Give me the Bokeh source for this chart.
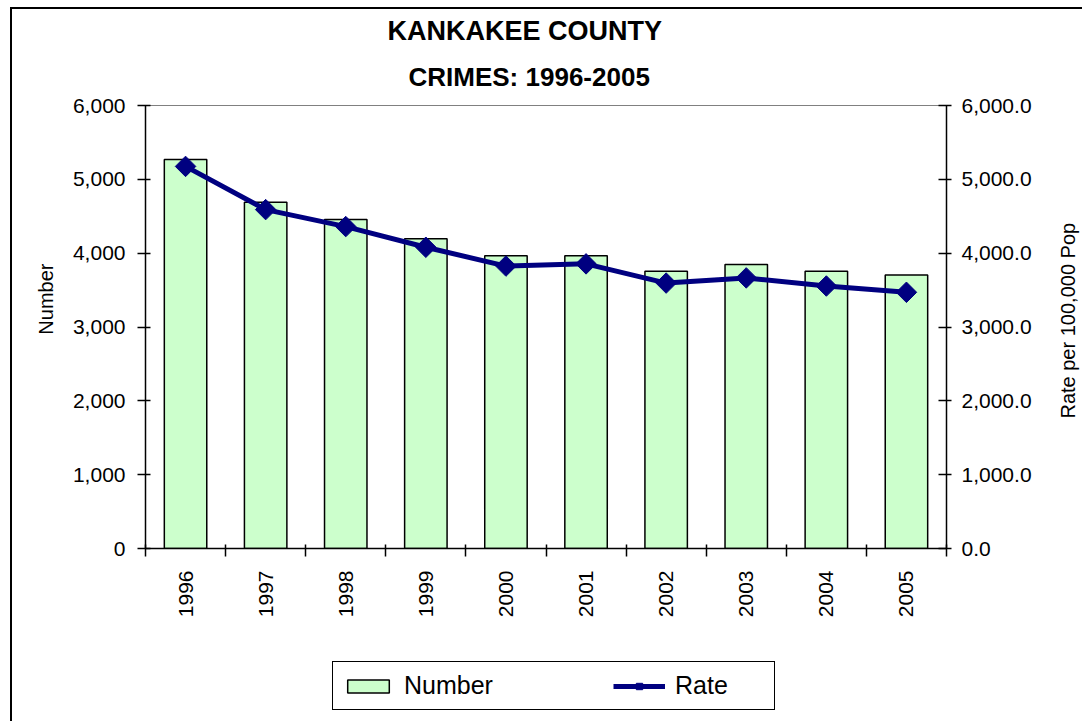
from math import pi
from bokeh.plotting import figure
from bokeh.layouts import column
from bokeh.models import (Range1d, LinearAxis, FixedTicker, NumeralTickFormatter,
                          Legend, LegendItem, Title)
from bokeh.embed import file_html
from bokeh.resources import INLINE

# ---- data ----
years = [1996, 1997, 1998, 1999, 2000, 2001, 2002, 2003, 2004, 2005]
number = [5270, 4690, 4455, 4195, 3965, 3965, 3755, 3845, 3755, 3705]
rate = [5175, 4590, 4360, 4080, 3825, 3855, 3595, 3665, 3555, 3470]
left_ticks = [0, 1000, 2000, 3000, 4000, 5000, 6000]
right_ticks = [0, 1000, 2000, 3000, 4000, 5000, 6000]
title_lines = ["KANKAKEE COUNTY", "CRIMES: 1996-2005"]
left_title = "Number"
right_title = "Rate per 100,000 Pop"
series_names = ["Number", "Rate"]

FONT = "Liberation Sans"
RIGHT_TITLE_START = 1760   # where the rotated right-hand title begins (rate scale)
NAN = float("nan")         # legend-only renderers draw nothing in their strip
BAR_STYLE = dict(fill_color="#CCFFCC", line_color="black", line_width=1.5)
LINE_STYLE = dict(line_color="#000080", line_width=5)
MARK_STYLE = dict(marker="square", angle=pi / 4, size=14.5,
                  fill_color="#000080", line_color="#000080")

p = figure(frame_width=801, frame_height=443,
           min_border_left=133, min_border_right=136,
           min_border_top=96, min_border_bottom=110,
           output_backend="svg", toolbar_location=None,
           x_range=Range1d(years[0] - 0.5, years[-1] + 0.5),
           y_range=Range1d(left_ticks[0], left_ticks[-1]))
p.extra_y_ranges = {"rate": Range1d(right_ticks[0], right_ticks[-1])}
p.xgrid.visible = False
p.ygrid.visible = False
p.outline_line_color = "#808080"
p.outline_line_width = 1
p.background_fill_color = "white"
p.border_fill_color = "white"

# x axis: labels at centres, ticks at category boundaries
xa = p.xaxis[0]
xa.ticker = FixedTicker(ticks=years,
                        minor_ticks=[y - 0.5 for y in years] + [years[-1] + 0.5])
xa.formatter = NumeralTickFormatter(format="0")
xa.major_label_orientation = pi / 2
xa.major_tick_out = 0
xa.major_tick_in = 0
xa.minor_tick_out = 8
xa.minor_tick_in = 4
xa.minor_tick_line_color = "black"
xa.minor_tick_line_width = 1.5
xa.axis_line_color = "black"
xa.axis_line_width = 1.5
xa.major_label_standoff = 14
xa.major_label_text_font = FONT
xa.major_label_text_font_size = "21px"
xa.major_label_text_color = "black"

ya = p.yaxis[0]
ya.ticker = FixedTicker(ticks=left_ticks)
ya.formatter = NumeralTickFormatter(format="0,0")
ya.major_tick_out = 8
ya.major_tick_in = 5
ya.major_tick_line_width = 1.5
ya.major_tick_line_color = "black"
ya.minor_tick_line_color = None
ya.axis_line_color = "black"
ya.axis_line_width = 1.5
ya.major_label_standoff = 12
ya.major_label_text_font = FONT
ya.major_label_text_font_size = "21px"
ya.major_label_text_color = "black"

ra = LinearAxis(y_range_name="rate", ticker=FixedTicker(ticks=right_ticks),
                formatter=NumeralTickFormatter(format="0,0.0"))
ra.major_tick_out = 5
ra.major_tick_in = 8
ra.major_tick_line_width = 1.5
ra.major_tick_line_color = "black"
ra.minor_tick_line_color = None
ra.axis_line_color = "black"
ra.axis_line_width = 1.5
ra.major_label_standoff = 10
ra.major_label_text_font = FONT
ra.major_label_text_font_size = "21px"
ra.major_label_text_color = "black"
p.add_layout(ra, "right")

# right-hand title, reading bottom-to-top, drawn as a rotated label
rt = LinearAxis(y_range_name="rate", ticker=FixedTicker(ticks=[RIGHT_TITLE_START]),
                major_label_overrides={RIGHT_TITLE_START: right_title})
rt.major_label_orientation = pi / 2
rt.major_tick_out = 0
rt.major_tick_in = 0
rt.minor_tick_out = 0
rt.minor_tick_in = 0
rt.axis_line_color = None
rt.major_tick_line_color = None
rt.minor_tick_line_color = None
rt.major_label_standoff = 34
rt.major_label_text_font = FONT
rt.major_label_text_font_size = "20px"
rt.major_label_text_color = "black"
p.add_layout(rt, "right")

# ---- titles ----
p.add_layout(Title(text=title_lines[1], align="left", offset=263, standoff=28,
                   text_font=FONT, text_font_size="26px", text_font_style="bold",
                   text_color="black"), "above")
p.add_layout(Title(text=title_lines[0], align="left", offset=242, standoff=0,
                   text_font=FONT, text_font_size="27px", text_font_style="bold",
                   text_color="black"), "above")
p.add_layout(Title(text=left_title, align="right", offset=158, standoff=26,
                   text_font=FONT, text_font_size="20px", text_font_style="normal",
                   text_color="black"), "left")

# ---- glyphs ----
p.vbar(x=years, top=number, width=0.53, **BAR_STYLE)
p.line(x=years, y=rate, y_range_name="rate", **LINE_STYLE)
p.scatter(x=years, y=rate, y_range_name="rate", **MARK_STYLE)

# ---- legend strip below the chart ----
lf = figure(width=1070, height=63, output_backend="svg", toolbar_location=None,
            x_range=Range1d(0, 1), y_range=Range1d(0, 1),
            x_axis_type=None, y_axis_type=None,
            min_border_left=0, min_border_right=0, min_border_top=0,
            min_border_bottom=0)
lf.xgrid.visible = False
lf.ygrid.visible = False
lf.outline_line_color = None
lf.background_fill_color = "white"
lf.border_fill_color = "white"
lb = lf.vbar(x=[NAN], top=[NAN], width=0.53, **BAR_STYLE)
ll = lf.line(x=[NAN], y=[NAN], **LINE_STYLE)
lm = lf.scatter(x=[NAN], y=[NAN], **MARK_STYLE)

legend = Legend(items=[LegendItem(label=series_names[0], renderers=[lb]),
                       LegendItem(label=series_names[1], renderers=[ll, lm])],
                orientation="horizontal", location=(187, 11),
                glyph_width=52, glyph_height=16, label_standoff=10,
                label_width=90, spacing=119, padding=9, margin=0,
                border_line_color="black", border_line_width=1.5,
                border_line_alpha=1,
                background_fill_color="white", background_fill_alpha=1,
                label_text_font=FONT, label_text_font_size="25px",
                label_text_color="black")
lf.add_layout(legend, "center")

page = column(p, lf, spacing=0,
              styles={"margin-left": "10px", "margin-top": "7px",
                      "border-left": "2px solid black",
                      "border-top": "2px solid black"})

open("out.html", "w").write(file_html(page, INLINE))
